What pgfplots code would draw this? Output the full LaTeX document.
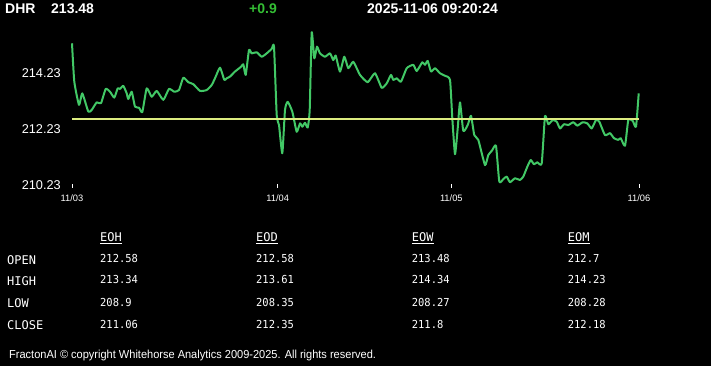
\documentclass[border=0pt]{standalone}
\usepackage{fontspec}
\usepackage{graphicx}
\usepackage{pgfplots}
\pgfplotsset{compat=1.18}
\setmainfont{Liberation Sans}
\newfontfamily\labfont{DejaVu Sans Mono}
\newfontfamily\valfont[FakeStretch=0.95]{DejaVu Sans Mono}
\definecolor{linegreen}{RGB}{66,200,102}
\definecolor{refyellow}{RGB}{220,236,128}
\definecolor{chggreen}{RGB}{52,190,52}
\begin{document}
\begin{tikzpicture}
\useasboundingbox (0,0) rectangle (711bp,366bp);
\fill[black] (0,0) rectangle (711bp,366bp);
% header
\begin{scope}[every node/.style={anchor=base west, inner sep=0pt, font=\fontsize{14bp}{16bp}\selectfont\bfseries}]
\node[text=white] at (5bp,352bp) {DHR};
\node[text=white] at (51bp,352bp) {213.48};
\node[text=chggreen] at (249bp,352bp) {+0.9};
\node[text=white] at (367bp,352bp) {2025-11-06 09:20:24};
\end{scope}
\begin{axis}[
  at={(72bp,178bp)}, anchor=south west,
  scale only axis, width=567bp, height=160bp,
  xmin=72, xmax=639, ymin=210.112, ymax=215.826,
  clip=false,
  axis line style={draw=none},
  tick align=inside, tick pos=left,
  major tick length=4bp,
  xtick={72,277.7,451.3,639},
  xticklabels={11/03,11/04,11/05,11/06},
  ytick={210.23,212.23,214.23},
  yticklabels={210.23,212.23,214.23},
  xtick style={draw=white, line width=0.8bp},
  ytick style={draw=none},
  xticklabel style={font=\fontsize{9.3bp}{10bp}\selectfont, text=white, anchor=base, yshift=-14bp},
  yticklabel style={font=\fontsize{12.75bp}{14bp}\selectfont, text=white, anchor=east, inner sep=0pt, xshift=-11bp},
]
\addplot[linegreen, line width=2bp, line join=round, smooth, tension=0.3] coordinates {
(72,215.28) (74.3,213.91) (79,213.08) (82.3,213.49) (88.3,212.84) (91.7,212.90)
(96.7,213.17) (101,213.14) (105.7,213.65) (110,213.55) (114.3,213.34) (117.7,213.67)
(120,213.65) (123.3,213.76) (126.7,213.49) (128.3,213.29) (131.7,213.55) (135,213.02)
(139,212.98) (142.3,212.82) (146.7,213.67) (151.7,213.37) (156.7,213.58) (163.3,213.26)
(169,213.65) (174.3,213.55) (179,213.61) (183.3,214.05) (188.3,213.89) (193.3,213.82)
(200,213.58) (206.7,213.61) (211.7,213.79) (215,214.03) (220,214.41) (224.3,213.97)
(226.7,214.03) (230,214.09) (235,214.27) (241,214.44) (243.3,214.53) (245.7,214.15)
(249,215.04) (251.7,214.92) (256.7,214.96) (261.7,214.80) (266.7,214.92) (271.7,215.08)
(274,215.16) (276.7,212.72) (279,212.36) (282.3,211.35) (285,212.90) (287.7,213.19)
(292.3,212.84) (296.7,212.12) (300,212.42) (302.3,212.30) (305,212.44) (307.7,212.27)
(309.7,212.90) (311.7,215.67) (314.3,214.74) (317,215.16) (320,214.92) (325,214.80)
(330,214.92) (333.3,214.68) (335.7,214.84) (340,214.27) (344.3,214.80) (348.3,214.39)
(353.3,214.62) (360,214.15) (367.7,213.89) (375,214.21) (381.7,213.69) (386.7,213.85)
(391,214.15) (393.3,213.97) (396.7,214.03) (401,213.91) (406.7,214.39) (413.3,214.51)
(416.7,214.29) (422.3,214.60) (425,214.51) (427.7,214.65) (431,214.27) (435,214.39)
(440,214.21) (445,214.12) (450,213.97) (452.3,212.60) (455,211.32) (457.7,212.24)
(460,213.17) (463.3,212.15) (467.7,212.36) (471,212.69) (474.3,212.00) (478.3,211.83)
(485,210.93) (488.3,211.29) (492,211.45) (496,211.62) (499.3,210.34) (503.3,210.43)
(506.7,210.52) (510,210.32) (515,210.46) (520,210.40) (523.3,210.52) (527.3,210.87)
(530.7,211.11) (534,210.96) (537.3,211.03) (541.7,210.99) (545,212.68) (548.3,212.39)
(552.7,212.54) (556.7,212.48) (560,212.24) (564,212.39) (568.3,212.36) (573.3,212.46)
(577.3,212.34) (582.7,212.46) (587.3,212.42) (591.7,212.24) (596,212.54) (599.3,212.48)
(605,212.00) (610,212.07) (614,211.89) (618.3,211.83) (620.7,211.89) (625,211.62)
(628.3,212.54) (632.7,212.51) (636,212.30) (638.7,213.49)
};
\addplot[refyellow, line width=2bp] coordinates {(72,212.58) (639,212.58)};
\end{axis}
% table
\begin{scope}[every node/.style={anchor=base west, inner sep=0pt, text=white}]
\begin{scope}[every node/.append style={font=\labfont\fontsize{12bp}{14bp}\selectfont}]
\node at (100bp,124bp) {\underline{EOH}};
\node at (256bp,124bp) {\underline{EOD}};
\node at (411.7bp,124bp) {\underline{EOW}};
\node at (567.7bp,124bp) {\underline{EOM}};
\node at (7bp,101.7bp) {OPEN};
\node at (7bp,80.3bp) {HIGH};
\node at (7bp,58.3bp) {LOW};
\node at (7bp,36.3bp) {CLOSE};
\end{scope}
\begin{scope}[every node/.append style={font=\valfont\fontsize{11bp}{13bp}\selectfont}]
\node at (100bp,103.7bp) {212.58};
\node at (256bp,103.7bp) {212.58};
\node at (411.7bp,103.7bp) {213.48};
\node at (567.7bp,103.7bp) {212.7};
\node at (100bp,82bp) {213.34};
\node at (256bp,82bp) {213.61};
\node at (411.7bp,82bp) {214.34};
\node at (567.7bp,82bp) {214.23};
\node at (100bp,59.3bp) {208.9};
\node at (256bp,59.3bp) {208.35};
\node at (411.7bp,59.3bp) {208.27};
\node at (567.7bp,59.3bp) {208.28};
\node at (100bp,37.7bp) {211.06};
\node at (256bp,37.7bp) {212.35};
\node at (411.7bp,37.7bp) {211.8};
\node at (567.7bp,37.7bp) {212.18};
\end{scope}
\node[font=\fontsize{11.6bp}{13bp}\selectfont] at (9bp,7.7bp) {\scalebox{0.95}[1]{FractonAI \textcopyright{} copyright Whitehorse Analytics 2009-2025. All rights reserved.}};
\end{scope}
\end{tikzpicture}
\end{document}
